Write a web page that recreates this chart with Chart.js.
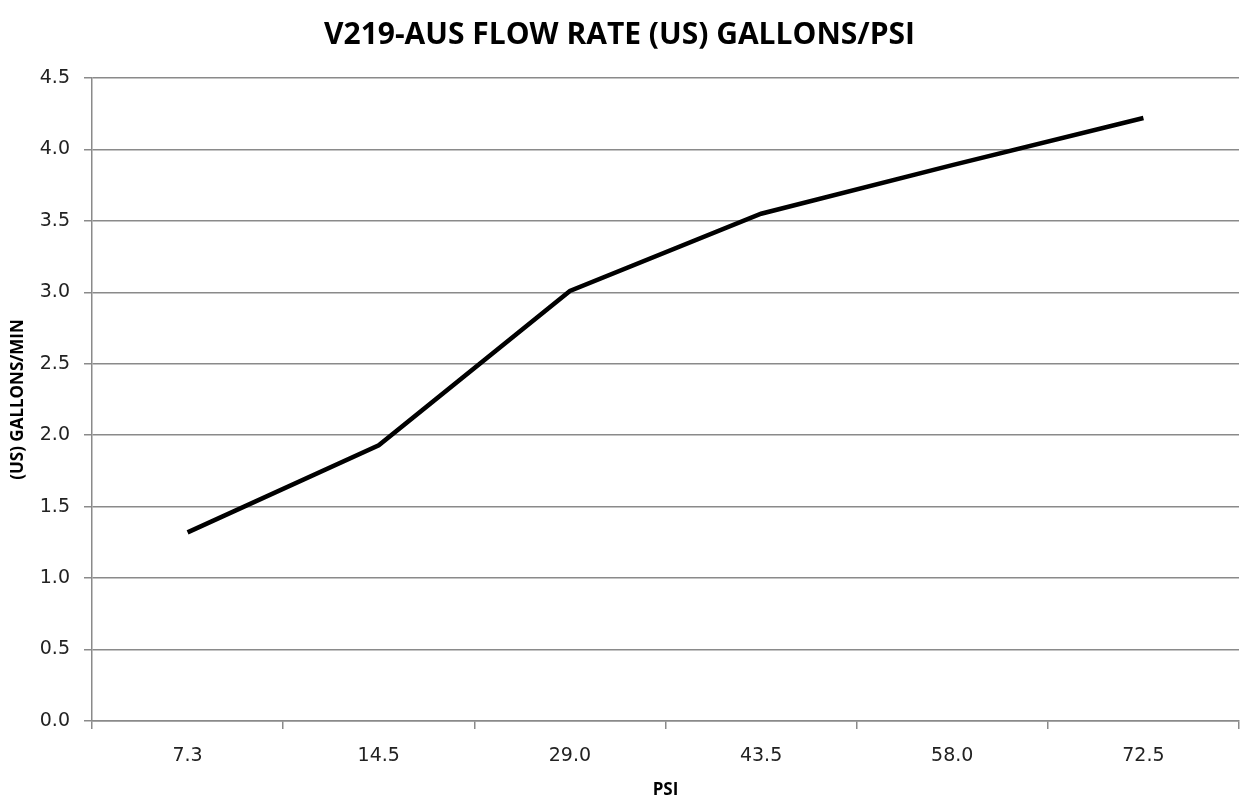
<!DOCTYPE html>
<html>
<head>
<meta charset="utf-8">
<script src="https://cdn.jsdelivr.net/npm/chart.js@4"></script>
<style>
    html, body { margin: 0; padding: 0; background: #fff; }
    #wrap { width: 1247px; height: 809px; }
</style>
</head>
<body>
<div id="wrap"><canvas id="flowChart" width="1247" height="809"></canvas></div>
<script>
// chart data
const psiLabels = ['7.3', '14.5', '29.0', '43.5', '58.0', '72.5'];
const flowValues = [1.32, 1.93, 3.01, 3.55, 3.89, 4.22];
const yTicks = [0, 0.5, 1.0, 1.5, 2.0, 2.5, 3.0, 3.5, 4.0, 4.5];

const chartTitle = 'V219-AUS FLOW RATE (US) GALLONS/PSI';
const xTitle = 'PSI';
const yTitle = '(US) GALLONS/MIN';

const gridGray = '#8a8a8a';
const tickFont = { family: 'DejaVu Sans', size: 19 };
const axisTitleFont = { family: 'Open Sans', size: 17, weight: 'bold' };

const ctx = document.getElementById('flowChart');

new Chart(ctx, {
    type: 'line',
    data: {
        labels: psiLabels,
        datasets: [{
            label: 'Flow',
            data: flowValues,
            borderColor: '#000',
            borderWidth: 4.5,
            pointRadius: 0,
            tension: 0,
            fill: false
        }]
    },
    options: {
        responsive: false,
        animation: false,
        layout: { padding: { left: 0, right: 8, top: 0, bottom: 0 } },
        plugins: {
            legend: { display: false },
            tooltip: { enabled: false },
            title: {
                display: true,
                text: chartTitle,
                color: '#000',
                font: { family: 'Open Sans', size: 30, weight: 'bold' },
                padding: { top: 17, bottom: 25 }
            }
        },
        scales: {
            x: {
                type: 'category',
                offset: true,
                border: { color: gridGray, width: 1.5 },
                grid: {
                    offset: true,
                    drawOnChartArea: false,
                    drawTicks: true,
                    tickLength: 8,
                    color: gridGray,
                    lineWidth: 1.5
                },
                ticks: {
                    color: '#222',
                    font: tickFont,
                    padding: 16,
                    maxRotation: 0
                },
                title: {
                    display: true,
                    text: xTitle,
                    color: '#000',
                    font: axisTitleFont,
                    padding: { top: 12, bottom: 9 }
                },
                afterFit(scale) {
                    scale.height = 88;
                }
            },
            y: {
                min: 0,
                max: 4.5,
                afterBuildTicks(scale) {
                    scale.ticks = yTicks.map(v => ({ value: v }));
                },
                border: { color: gridGray, width: 1.5 },
                grid: {
                    color: gridGray,
                    lineWidth: 1.5,
                    tickLength: 8
                },
                ticks: {
                    color: '#222',
                    font: tickFont,
                    padding: 14,
                    callback: v => v.toFixed(1)
                },
                title: {
                    display: true,
                    text: yTitle,
                    color: '#000',
                    font: axisTitleFont,
                    padding: { top: 8, bottom: 0 }
                },
                afterFit(scale) {
                    scale.width = 92;
                }
            }
        }
    }
});
</script>
</body>
</html>
